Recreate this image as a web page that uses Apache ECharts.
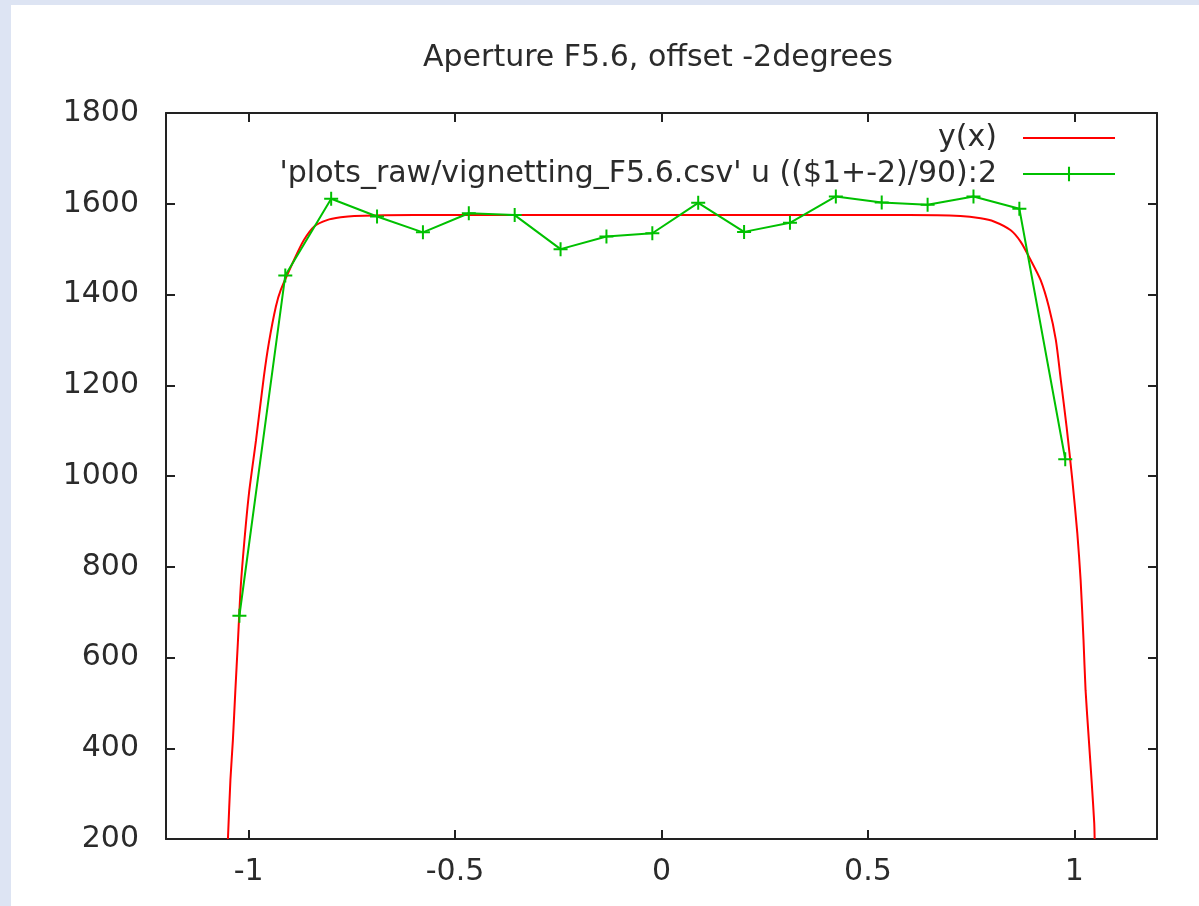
<!DOCTYPE html>
<html>
<head>
<meta charset="utf-8">
<title>Aperture F5.6, offset -2degrees</title>
<script src="https://cdn.jsdelivr.net/npm/echarts@6/dist/echarts.min.js"></script>
<style>
  html, body { margin: 0; padding: 0; width: 1199px; height: 906px; overflow: hidden; background: #dde4f3; }
  #chart { position: absolute; left: 11px; top: 5px; width: 1188px; height: 901px; background: #ffffff; }
</style>
</head>
<body>
<div id="chart"></div>
<script>
// ---- data ----
const titleText = 'Aperture F5.6, offset -2degrees';
const fitName = 'y(x)';
const dataName = "'plots_raw/vignetting_F5.6.csv' u (($1+-2)/90):2";

// measured brightness per lens angle (degrees); plotted at (angle + offset) / 90
const angleOffset = -2;
const angles = [-90, -80, -70, -60, -50, -40, -30, -20, -10, 0, 10, 20, 30, 40, 50, 60, 70, 80, 90];
const measured = [692, 1442, 1611, 1572, 1537, 1579, 1575, 1500, 1528, 1535, 1602, 1538, 1558, 1616, 1603, 1598, 1616, 1589, 1037];

// fitted vignetting curve y(x)
const fitX = [-1.050, -1.044, -1.038, -1.032, -1.026, -1.019, -1.010, -0.999, -0.982, -0.963, -0.951, -0.934, -0.922,
              -0.890, -0.866, -0.841, -0.810, -0.777, -0.744, -0.600, 0.000, 0.600,
              0.724, 0.773, 0.805, 0.845, 0.870, 0.894, 0.918, 0.938, 0.955, 0.967, 0.981,
              0.995, 1.007, 1.015, 1.022, 1.027, 1.035, 1.042, 1.048, 1.049];
const fitY = [200, 330, 418, 528, 632, 756, 859, 962, 1079, 1219, 1293, 1373, 1410,
              1476, 1520, 1550, 1564, 1570, 1573, 1575, 1575, 1575,
              1573, 1568, 1561, 1542, 1516, 1476, 1432, 1373, 1300, 1212, 1109,
              991, 874, 771, 639, 528, 418, 323, 235, 200];

// axes
const xTicks = [-1, -0.5, 0, 0.5, 1];
const xMin = -1.2, xMax = 1.2;
const yMin = 200, yMax = 1800, yStep = 200;

// ---- styles ----
const FONT = 'DejaVu Sans';
const INK = '#2b2b2b';
const FRAME = '#222222';
const RED = '#ff0000';
const GREEN = '#00c000';
const PLUS = 'path://M6,0H8V6H14V8H8V14H6V8H0V6H6Z';

const frameLine = { show: true, onZero: false, lineStyle: { color: FRAME, width: 2 } };
const tickStyle = { color: FRAME, width: 2 };

const chart = echarts.init(document.getElementById('chart'), null, { renderer: 'canvas' });

const fitData = fitX.map((x, i) => [x, fitY[i]]);
const pointData = angles.map((a, i) => [(a + angleOffset) / 90, measured[i]]);

const legendBase = {
  orient: 'vertical',
  align: 'right',
  right: 83,
  padding: 0,
  itemWidth: 92,
  itemHeight: 18,
  selectedMode: false,
  textStyle: { fontFamily: FONT, fontSize: 30, color: INK, padding: [0, 21, 0, 0] }
};

chart.setOption({
  animation: false,
  backgroundColor: '#ffffff',
  title: {
    text: titleText,
    left: 647,
    top: 38,
    textAlign: 'center',
    padding: 0,
    textStyle: { fontFamily: FONT, fontSize: 30, fontWeight: 'normal', color: INK }
  },
  legend: [
    Object.assign({}, legendBase, {
      data: [{ name: fitName, itemStyle: { color: 'rgba(0,0,0,0)', opacity: 0, borderWidth: 0 } }],
      top: 118
    }),
    Object.assign({}, legendBase, { data: [dataName], top: 154 })
  ],
  grid: { left: 155, right: 42, top: 108, bottom: 67 },
  xAxis: [
    {
      type: 'value', position: 'bottom', min: xMin, max: xMax,
      axisLine: frameLine,
      axisTick: { show: true, inside: true, length: 9, customValues: xTicks, lineStyle: tickStyle },
      axisLabel: { show: true, customValues: xTicks, margin: 18, fontFamily: FONT, fontSize: 30, color: INK },
      splitLine: { show: false }
    },
    {
      type: 'value', position: 'top', min: xMin, max: xMax,
      axisLine: frameLine,
      axisTick: { show: true, inside: true, length: 9, customValues: xTicks, lineStyle: tickStyle },
      axisLabel: { show: false },
      splitLine: { show: false }
    }
  ],
  yAxis: [
    {
      type: 'value', position: 'left', min: yMin, max: yMax, interval: yStep,
      axisLine: frameLine,
      axisTick: { show: true, inside: true, length: 9, lineStyle: tickStyle },
      axisLabel: {
        show: true, margin: 27, fontFamily: FONT, fontSize: 30, color: INK,
        padding: [0, 0, 4, 0],
        formatter: v => String(v)
      },
      splitLine: { show: false }
    },
    {
      type: 'value', position: 'right', min: yMin, max: yMax, interval: yStep,
      axisLine: frameLine,
      axisTick: { show: true, inside: true, length: 9, lineStyle: tickStyle },
      axisLabel: { show: false },
      splitLine: { show: false }
    }
  ],
  series: [
    {
      name: fitName,
      type: 'line',
      data: fitData,
      symbol: 'none',
      showSymbol: false,
      smooth: 0.25,
      clip: true,
      lineStyle: { color: RED, width: 2 },
      itemStyle: { color: RED }
    },
    {
      name: dataName,
      type: 'line',
      data: pointData,
      symbol: PLUS,
      symbolSize: 14,
      clip: true,
      lineStyle: { color: GREEN, width: 2 },
      itemStyle: { color: GREEN }
    }
  ]
});
</script>
</body>
</html>
